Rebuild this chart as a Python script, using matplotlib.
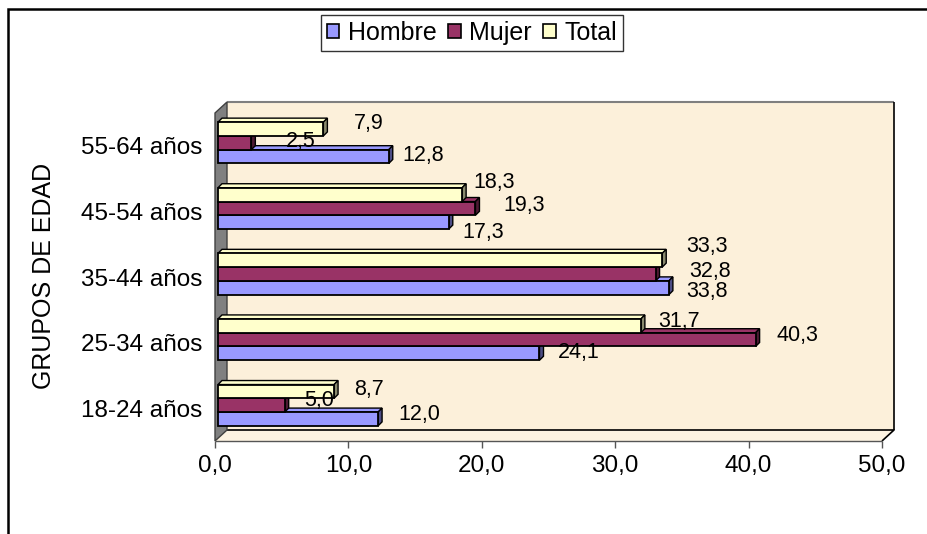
import matplotlib
matplotlib.use("Agg")
import matplotlib.pyplot as plt
from matplotlib.patches import Polygon, Rectangle, Patch
from matplotlib.transforms import IdentityTransform, offset_copy
from matplotlib.ticker import FuncFormatter
import numpy as np

plt.rcParams['font.family'] = ['Liberation Sans', 'DejaVu Sans']

# ---- data ----
categories = ['18-24 años', '25-34 años', '35-44 años', '45-54 años', '55-64 años']
series_names = ['Hombre', 'Mujer', 'Total']
hombre = [12.0, 24.1, 33.8, 17.3, 12.8]
mujer = [5.0, 40.3, 32.8, 19.3, 2.5]
total = [8.7, 31.7, 33.3, 18.3, 7.9]
x_ticks = [0, 10, 20, 30, 40, 50]

# ---- style ----
face_colors = ['#9999FF', '#993366', '#FFFFCC']
side_colors = ['#4D4D85', '#4D1A33', '#8A8A6E']
bar_offsets = [-0.21, 0.0, 0.21]
bar_h = 0.21
# label offsets in pixels (dx right from bar end, dy down from bar centre)
label_dx = [[41.5, 39.5, 38, 34, 34],
            [34, 41.4, 54.5, 48.5, 49.6],
            [35, 38, 45, 32, 45.6]]
label_dy = [[-4, -1, 3.5, 10, -1.5],
            [-5, -4, -3, -3, -1],
            [-1.5, -4, -13.5, -12, -6]]

W, H, DPI = 928, 534, 100
fig = plt.figure(figsize=(W / DPI, H / DPI), dpi=DPI)
fig.patch.set_facecolor('white')

# outer border (left and top visible)
fig.add_artist(Rectangle((8 / W, -0.2), 1.3, (H - 9) / H + 0.2, transform=fig.transFigure,
                         fill=False, edgecolor='black', linewidth=1.8))

ax = fig.add_axes([215 / W, (H - 441) / H, 667 / W, 328 / H])
ax.set_xlim(0, 50)
ax.set_ylim(-0.5, 4.5)
ax.patch.set_visible(False)
for s in ax.spines.values():
    s.set_visible(False)

fig.canvas.draw()
DX, DY = 12, 11  # wall depth in pixels
ID = IdentityTransform()
def disp(pts, tr):
    return tr.transform(np.asarray(pts, dtype=float))

def poly(pts, **kw):
    ax.add_patch(Polygon(pts, closed=True, transform=ID, clip_on=False, **kw))

def line(pts, **kw):
    pts = np.asarray(pts)
    ax.plot(pts[:, 0], pts[:, 1], transform=ID, clip_on=False, solid_capstyle='butt', **kw)

ta = ax.transAxes
# back wall
bw = disp([[0, 0], [1, 0], [1, 1], [0, 1]], ta) + [DX, DY]
poly(bw, facecolor='#FCF0DA', edgecolor='none', zorder=0)
line([bw[3], bw[2]], color='#7F7F7F', lw=1.5, zorder=1)
line([bw[2], bw[1]], color='black', lw=1.2, zorder=1)
# floor
fr = disp([[0, 0], [1, 0]], ta)
floor = np.array([fr[0], fr[1], fr[1] + [DX, DY], fr[0] + [DX, DY]])
poly(floor, facecolor='#FDF3E2', edgecolor='none', zorder=1)
line([floor[3], floor[2], floor[1]], color='black', lw=1.2, zorder=1)
line([fr[0], fr[1]], color='#555555', lw=1.0, zorder=1)
# left wall
lf = disp([[0, 0], [0, 1]], ta)
lw_poly = np.array([lf[0], lf[1], lf[1] + [DX, DY], lf[0] + [DX, DY]])
poly(lw_poly, facecolor='#808080', edgecolor='#404040', linewidth=1.0, zorder=1)

# bars
bar_tr = offset_copy(ax.transData, fig=fig, x=3, y=3, units='dots')
BD = 4  # bar depth in pixels
y = np.arange(len(categories))
all_vals = [hombre, mujer, total]
for si, vals in enumerate(all_vals):
    for ci, v in enumerate(vals):
        yc = y[ci] + bar_offsets[si]
        z = 3 + si
        ax.add_patch(Rectangle((0, yc - bar_h / 2), v, bar_h, transform=bar_tr, clip_on=False,
                               facecolor=face_colors[si], edgecolor='black', linewidth=1.3, zorder=z))
        p = disp([[0, yc - bar_h / 2], [v, yc - bar_h / 2], [v, yc + bar_h / 2], [0, yc + bar_h / 2]],
                 ax.transData) + [3, 3]
        top = np.array([p[3], p[2], p[2] + [BD, BD], p[3] + [BD, BD]])
        side = np.array([p[1], p[2], p[2] + [BD, BD], p[1] + [BD, BD]])
        poly(top, facecolor=face_colors[si], edgecolor='black', linewidth=1.0, zorder=z - 0.5)
        poly(side, facecolor=side_colors[si], edgecolor='black', linewidth=1.0, zorder=z - 0.5)
        ax.annotate(f'{v:.1f}'.replace('.', ','), xy=(v, yc), xycoords='data',
                    xytext=((3 + label_dx[si][ci]) * 0.72, (3 - label_dy[si][ci]) * 0.72),
                    textcoords='offset points', ha='center', va='center', fontsize=15.5,
                    color='black', zorder=10)

ax.set_yticks(y)
ax.set_yticklabels(categories, fontsize=17.5)
ax.tick_params(axis='y', length=0, pad=9)
ax.set_xticks(x_ticks)
ax.xaxis.set_major_formatter(FuncFormatter(lambda v, p: f'{v:.1f}'.replace('.', ',')))
ax.tick_params(axis='x', length=5, width=1, color='#555555', labelsize=17.5, pad=5)

fig.text(44 / W, 1 - 276 / H, 'GRUPOS DE EDAD', rotation=90, ha='center', va='center', fontsize=18)

handles = [Patch(facecolor=c, edgecolor='black', linewidth=1.2) for c in face_colors]
leg = fig.legend(handles, series_names, loc='center', bbox_to_anchor=(472 / W, 1 - 33 / H),
                 ncol=3, fontsize=18, frameon=True, fancybox=False, handlelength=0.5,
                 handleheight=0.5, handletextpad=0.35, columnspacing=0.45, borderpad=0.25)
leg.get_frame().set_edgecolor('black')
leg.get_frame().set_linewidth(1.0)

fig.savefig('out.png', dpi=DPI)
